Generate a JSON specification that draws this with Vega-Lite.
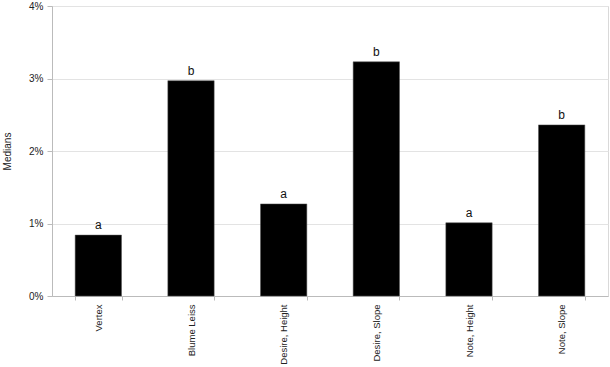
{
  "$schema": "https://vega.github.io/schema/vega-lite/v6.json",
  "width": 556,
  "height": 290,
  "autosize": {"type": "none"},
  "padding": {"left": 52, "top": 6, "right": 2, "bottom": 71},
  "background": "white",
  "config": {
    "font": "Liberation Sans",
    "view": {"stroke": "#d9d9d9", "strokeWidth": 1}
  },
  "data": {
    "values": [
      {"group": "Vertex", "median": 0.0084, "letter": "a"},
      {"group": "Blume Leiss", "median": 0.0297, "letter": "b"},
      {"group": "Desire, Height", "median": 0.0127, "letter": "a"},
      {"group": "Desire, Slope", "median": 0.0323, "letter": "b"},
      {"group": "Note, Height", "median": 0.0101, "letter": "a"},
      {"group": "Note, Slope", "median": 0.0236, "letter": "b"}
    ]
  },
  "encoding": {
    "x": {
      "field": "group",
      "type": "nominal",
      "sort": null,
      "scale": {"paddingInner": 0.5, "paddingOuter": 0.25},
      "axis": {
        "title": null,
        "labelAngle": -90,
        "labelFontSize": 9.5,
        "labelColor": "#222",
        "labelPadding": 4,
        "tickBand": "extent",
        "tickSize": 4,
        "tickColor": "#bbb",
        "domainColor": "#bbb",
        "grid": false
      }
    },
    "y": {
      "field": "median",
      "type": "quantitative",
      "scale": {"domain": [0, 0.04], "nice": false},
      "axis": {
        "title": "Medians",
        "titleFontSize": 10,
        "titleFontWeight": "normal",
        "titleColor": "#222",
        "titleX": -40,
        "values": [0, 0.01, 0.02, 0.03, 0.04],
        "format": ".0%",
        "labelFontSize": 10,
        "labelColor": "#222",
        "labelPadding": 4,
        "tickSize": 5,
        "tickColor": "#bbb",
        "domainColor": "#bbb",
        "gridColor": "#e3e3e3"
      }
    }
  },
  "layer": [
    {"mark": {"type": "bar", "color": "black", "stroke": "#555", "strokeWidth": 0.5}},
    {
      "mark": {"type": "text", "dy": -3, "fontSize": 12, "color": "#111", "baseline": "bottom"},
      "encoding": {"text": {"field": "letter"}}
    }
  ]
}
